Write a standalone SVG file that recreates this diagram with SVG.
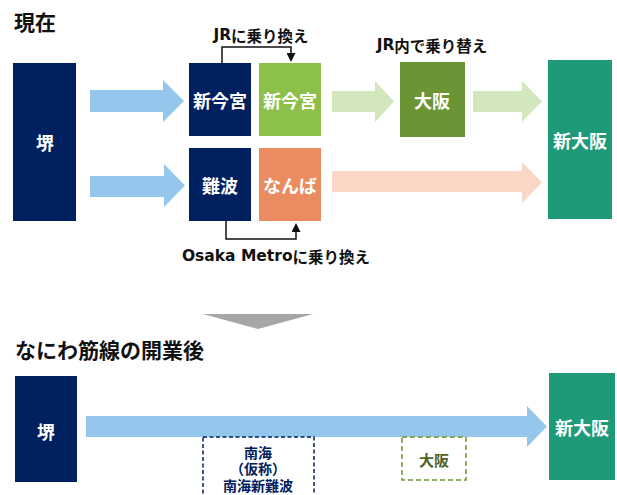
<svg xmlns="http://www.w3.org/2000/svg" width="617" height="495" viewBox="0 0 617 495">
<defs>
<style>
text{font-family:"Noto Sans CJK JP","Noto Sans",sans-serif;font-weight:bold;dominant-baseline:central}
.box text{fill:#fff;font-size:18px;text-anchor:middle}
.title{font-size:21px;fill:#111}
.lbl{font-size:15.5px;fill:#111;text-anchor:middle}
.lat{font-family:"DejaVu Sans",sans-serif}
.navy{fill:#002060;font-size:14px;text-anchor:middle}
.conn{fill:none;stroke:#111;stroke-width:1.5}
.dash-n{fill:#fff;stroke:#002060;stroke-width:1.5;stroke-dasharray:4 2.5}
.dash-g{fill:#fff;stroke:#6B9535;stroke-width:1.5;stroke-dasharray:5 3}
</style>
<marker id="ah" viewBox="0 0 10 10" refX="0" refY="5" markerWidth="9" markerHeight="9" markerUnits="userSpaceOnUse" orient="auto">
<path d="M0,0 L10,5 L0,10 Z" fill="#111"/>
</marker>
</defs>
<rect width="617" height="495" fill="#fff"/>

<text class="title" x="14" y="21">現在</text>
<text class="title" x="15" y="349">なにわ筋線の開業後</text>

<g id="arrows">
<polygon points="90,90 163,90 163,80 184,101 163,122 163,112 90,112" fill="#95C7EC"/>
<polygon points="332,91 375,91 375,81 394,101.5 375,122 375,112 332,112" fill="#D3E7BD"/>
<polygon points="473,91 522,91 522,81 542,101.5 522,122 522,112 473,112" fill="#D3E7BD"/>
<polygon points="90,176 164,176 164,164 185,185.5 164,207 164,197 90,197" fill="#95C7EC"/>
<polygon points="332,171 522,171 522,162 542,182.5 522,203 522,192 332,192" fill="#F9D6C6"/>
<polygon points="86,416 527,416 527,406 547,426.5 527,447 527,437 86,437" fill="#95C7EC"/>
<polygon points="203,314 313,314 258,329" fill="#A6A6A6"/>
</g>

<g id="connectors">
<path class="conn" d="M222,63 V47 H291 V53" marker-end="url(#ah)"/>
<path class="conn" d="M226,221 V239 H296 V232" marker-end="url(#ah)"/>
</g>
<text class="lbl" x="261" y="35"><tspan class="lat">JR</tspan>に乗り換え</text>
<text class="lbl" x="432" y="45"><tspan class="lat">JR</tspan>内で乗り替え</text>
<text class="lbl" x="276" y="256"><tspan class="lat">Osaka Metro</tspan>に乗り換え</text>

<g id="sakai1" class="box"><rect x="13" y="63" width="63" height="158" fill="#002060"/><text x="45" y="142">堺</text></g>
<g id="shinimamiya-nankai" class="box"><rect x="189" y="63" width="62" height="73" fill="#002060"/><text x="220" y="100">新今宮</text></g>
<g id="shinimamiya-jr" class="box"><rect x="259" y="63" width="62" height="73" fill="#8DC04A"/><text x="290" y="100">新今宮</text></g>
<g id="osaka1" class="box"><rect x="400" y="62" width="65" height="75" fill="#6B9535"/><text x="432" y="100">大阪</text></g>
<g id="shinosaka1" class="box"><rect x="548" y="60" width="64" height="159" fill="#1E9A78"/><text x="580" y="140">新大阪</text></g>
<g id="nanba-nankai" class="box"><rect x="189" y="148" width="62" height="73" fill="#002060"/><text x="220" y="185">難波</text></g>
<g id="nanba-metro" class="box"><rect x="259" y="148" width="62" height="73" fill="#EA8B60"/><text x="290" y="185">なんば</text></g>

<g id="sakai2" class="box"><rect x="15" y="376" width="62" height="106" fill="#002060"/><text x="46" y="431">堺</text></g>
<g id="shinosaka2" class="box"><rect x="549" y="373" width="66" height="107" fill="#1E9A78"/><text x="582" y="427">新大阪</text></g>
<g id="minami-shinnanba">
<rect class="dash-n" x="203" y="437" width="111" height="70"/>
<text class="navy"><tspan x="258" y="452">南海</tspan><tspan x="258" y="468">（仮称）</tspan><tspan x="258" y="485">南海新難波</tspan></text>
</g>
<g id="osaka2">
<rect class="dash-g" x="402" y="437" width="64" height="43"/>
<text x="434" y="459" font-size="15" text-anchor="middle" fill="#4F6228">大阪</text>
</g>
</svg>
